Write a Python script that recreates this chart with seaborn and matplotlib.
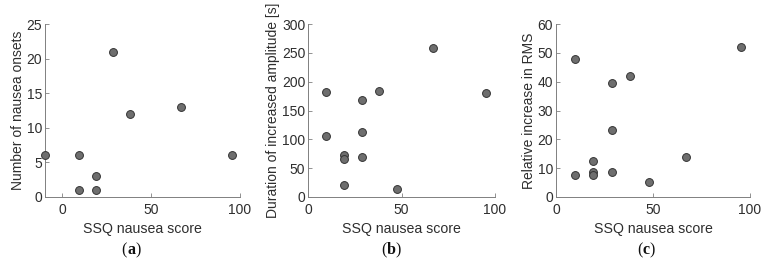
import numpy as np
import pandas as pd
import matplotlib
matplotlib.use("Agg")
import matplotlib.pyplot as plt
import seaborn as sns

# Data
ssq_a = [-9.54, 9.54, 9.54, 19.08, 19.08, 28.62, 38.16, 66.78, 95.4]
onsets = [6, 6, 1, 3, 1, 21, 12, 13, 6]

ssq_b = [9.54, 9.54, 19.08, 19.08, 19.08, 28.62, 28.62, 28.62, 38.16, 47.7, 66.78, 95.4]
duration = [182, 105, 73, 66, 20, 168, 112, 70, 184, 14, 258, 180]

ssq_c = [9.54, 9.54, 19.08, 19.08, 19.08, 28.62, 28.62, 28.62, 38.16, 47.7, 66.78, 95.4]
rms = [48, 7.5, 12.5, 8.5, 7.8, 39.5, 23.3, 8.5, 41.8, 5.3, 14, 52]

ylabels = ["Number of nausea onsets", "Duration of increased amplitude [s]", "Relative increase in RMS"]
panel_labels = ["a", "b", "c"]

sns.set_theme(style="white")
plt.rcParams['font.family'] = ['Liberation Sans', 'DejaVu Sans']

fig = plt.figure(figsize=(7.72, 2.64), dpi=100)
W, H = 772, 264
boxes = [(45, 240), (308, 495), (556, 750)]
top, bottom = 24, 197
label_centers = [131, 391, 646]

datasets = [
    (ssq_a, onsets, (-9.54, 100), (0, 25), [0, 50, 100], [0, 5, 10, 15, 20, 25]),
    (ssq_b, duration, (0, 100), (0, 300), [0, 50, 100], [0, 50, 100, 150, 200, 250, 300]),
    (ssq_c, rms, (0, 100), (0, 60), [0, 50, 100], [0, 10, 20, 30, 40, 50, 60]),
]

axis_col = "#808080"
txt_col = "#2e2e2e"
renderer = fig.canvas.get_renderer()
for i, ((l, r), (xs, ys, xl, yl, xt, yt)) in enumerate(zip(boxes, datasets)):
    ax = fig.add_axes([l / W, (H - bottom) / H, (r - l) / W, (bottom - top) / H])
    df = pd.DataFrame({"x": xs, "y": ys})
    sns.scatterplot(data=df, x="x", y="y", ax=ax, s=32, color="#6e6e6e",
                    edgecolor="#333333", linewidth=0.7, clip_on=False, zorder=3)
    ax.set_xlim(*xl)
    ax.set_ylim(*yl)
    ax.set_xticks(xt)
    ax.set_yticks(yt)
    for side in ["top", "right"]:
        ax.spines[side].set_visible(False)
    for side in ["left", "bottom"]:
        ax.spines[side].set_color(axis_col)
        ax.spines[side].set_linewidth(0.7)
    ax.tick_params(direction="in", length=3, width=0.6, color=axis_col,
                   labelsize=10, labelcolor=txt_col, left=True, bottom=True)
    ax.tick_params(axis="y", pad=2)
    ax.tick_params(axis="x", pad=4)
    ax.set_xlabel("SSQ nausea score", fontsize=10.2, color=txt_col, labelpad=4)
    ax.set_ylabel(ylabels[i], fontsize=10, color=txt_col, labelpad=1)

    # panel label "(a)" with bold letter, assembled piecewise
    yv = (H - 250) / H
    kw = dict(va="center", fontsize=11.5, family="Liberation Serif", color="#111111")
    parts = [("(", "normal"), (panel_labels[i], "bold"), (")", "normal")]
    texts = [fig.text(0, yv, s, ha="left", weight=w, **kw) for s, w in parts]
    widths = [t.get_window_extent(renderer).width for t in texts]
    x0 = label_centers[i] - sum(widths) / 2
    for t, w in zip(texts, widths):
        t.set_x(x0 / W)
        x0 += w

fig.savefig("out.png", dpi=100)
